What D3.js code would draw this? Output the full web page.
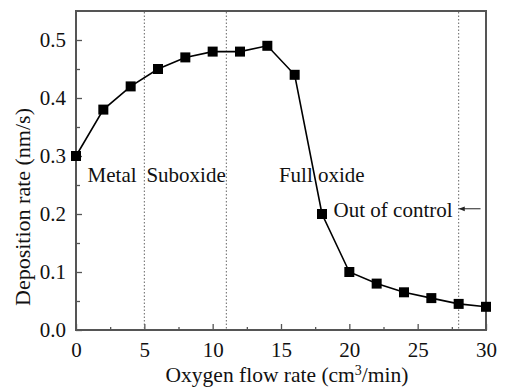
<!DOCTYPE html>
<html>
<head>
<meta charset="utf-8">
<script src="https://cdn.jsdelivr.net/npm/d3@7"></script>
<style>
  body { margin: 0; background: #fff; }
  text { font-family: "Liberation Serif", "Times New Roman", serif; fill: #111; }
</style>
</head>
<body>
<div id="chart"></div>
<script>
// data
var flowRate = [0, 2, 4, 6, 8, 10, 12, 14, 16, 18, 20, 22, 24, 26, 28, 30];
var depRate = [0.30, 0.38, 0.42, 0.45, 0.47, 0.48, 0.48, 0.49, 0.44, 0.20, 0.10, 0.08, 0.065, 0.055, 0.045, 0.04];
var xTicks = [0, 5, 10, 15, 20, 25, 30];
var yTicks = [0.0, 0.1, 0.2, 0.3, 0.4, 0.5];
var boundaries = [5, 11, 28];
var regionLabels = [
  { text: "Metal", x: 0.85, y: 0.255 },
  { text: "Suboxide", x: 5.15, y: 0.255 },
  { text: "Full oxide", x: 14.85, y: 0.255 }
];

var width = 505, height = 388;
var margin = { top: 11, right: 19, bottom: 58, left: 76 };
var chartWidth = width - margin.left - margin.right;
var chartHeight = height - margin.top - margin.bottom;

var svg = d3.select("#chart").append("svg")
  .attr("width", width)
  .attr("height", height);

var chartGroup = svg.append("g")
  .attr("transform", `translate(${margin.left}, ${margin.top})`);

var x = d3.scaleLinear().domain([0, 30]).range([0, chartWidth]);
var y = d3.scaleLinear().domain([0, 0.55]).range([chartHeight, 0]);

var axisColor = "#555";

// minor ticks
chartGroup.append("g")
  .attr("transform", `translate(0, ${chartHeight})`)
  .call(d3.axisBottom(x).tickValues(d3.range(2.5, 30, 5)).tickSize(-3).tickFormat(""))
  .call(g => g.select(".domain").remove())
  .call(g => g.selectAll("line").attr("stroke", axisColor).attr("stroke-width", 1.3));

chartGroup.append("g")
  .call(d3.axisLeft(y).tickValues([0.05, 0.15, 0.25, 0.35, 0.45]).tickSize(-4).tickFormat(""))
  .call(g => g.select(".domain").remove())
  .call(g => g.selectAll("line").attr("stroke", axisColor).attr("stroke-width", 1.3));

// major ticks
var xAxis = chartGroup.append("g")
  .attr("transform", `translate(0, ${chartHeight})`)
  .call(d3.axisBottom(x).tickValues(xTicks).tickSize(-6).tickPadding(12).tickFormat(d3.format("d")));

var yAxis = chartGroup.append("g")
  .call(d3.axisLeft(y).tickValues(yTicks).tickSize(-6).tickPadding(10).tickFormat(d3.format(".1f")));

[xAxis, yAxis].forEach(function(a) {
  a.select(".domain").remove();
  a.selectAll("line").attr("stroke", axisColor).attr("stroke-width", 1.3);
  a.selectAll("text").style("font-size", "21px").attr("fill", "#111");
});

// frame
chartGroup.append("rect")
  .attr("width", chartWidth)
  .attr("height", chartHeight)
  .attr("fill", "none")
  .attr("stroke", axisColor)
  .attr("stroke-width", 2);

// dotted region boundaries
chartGroup.selectAll(".boundary")
  .data(boundaries)
  .enter()
  .append("line")
  .attr("x1", d => x(d))
  .attr("x2", d => x(d))
  .attr("y1", 1)
  .attr("y2", chartHeight - 1)
  .attr("stroke", "#666")
  .attr("stroke-width", 1)
  .attr("stroke-dasharray", "1.5,2");

// data line and markers
var line = d3.line()
  .x((d, i) => x(flowRate[i]))
  .y(d => y(d));

chartGroup.append("path")
  .datum(depRate)
  .attr("d", line)
  .attr("fill", "none")
  .attr("stroke", "#000")
  .attr("stroke-width", 1.6);

chartGroup.selectAll(".marker")
  .data(depRate)
  .enter()
  .append("rect")
  .attr("x", (d, i) => x(flowRate[i]) - 5)
  .attr("y", d => y(d) - 5)
  .attr("width", 10)
  .attr("height", 10)
  .attr("fill", "#000");

// region labels
chartGroup.selectAll(".region")
  .data(regionLabels)
  .enter()
  .append("text")
  .attr("x", d => x(d.x))
  .attr("y", d => y(d.y))
  .style("font-size", "21px")
  .text(d => d.text);

chartGroup.append("text")
  .attr("x", x(18.85))
  .attr("y", y(0.195))
  .style("font-size", "21px")
  .text("Out of control");

// arrow pointing to the out of control boundary
svg.append("defs").append("marker")
  .attr("id", "arrow")
  .attr("viewBox", "0 0 10 10")
  .attr("refX", 9)
  .attr("refY", 5)
  .attr("markerWidth", 7)
  .attr("markerHeight", 6)
  .attr("orient", "auto")
  .append("path")
  .attr("d", "M0,1 L10,5 L0,9 Z")
  .attr("fill", "#222");

chartGroup.append("line")
  .attr("x1", x(29.6))
  .attr("x2", x(28.05))
  .attr("y1", y(0.209))
  .attr("y2", y(0.209))
  .attr("stroke", "#222")
  .attr("stroke-width", 1)
  .attr("marker-end", "url(#arrow)");

// axis titles
svg.append("text")
  .attr("x", margin.left + chartWidth / 2 + 6)
  .attr("y", height - 6)
  .attr("text-anchor", "middle")
  .style("font-size", "21.5px")
  .html("Oxygen flow rate (cm<tspan dy='-7' font-size='14px'>3</tspan><tspan dy='7'>/min)</tspan>");

svg.append("text")
  .attr("transform", "translate(30, 207) rotate(-90)")
  .attr("text-anchor", "middle")
  .style("font-size", "22px")
  .text("Deposition rate (nm/s)");
</script>
</body>
</html>
